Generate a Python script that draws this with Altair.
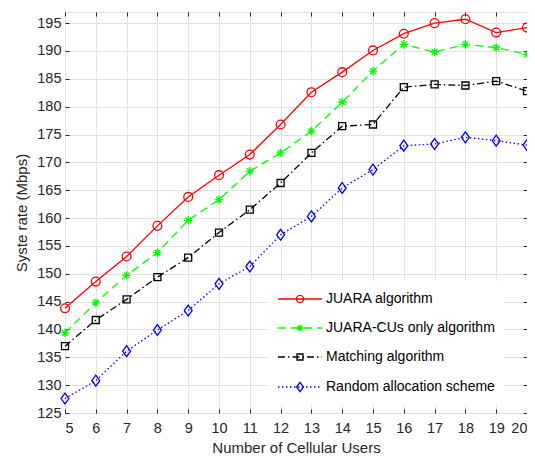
import altair as alt
import pandas as pd

users = list(range(5, 21))
juara = [143.8, 148.6, 153.1, 158.6, 163.8, 167.7, 171.4, 176.8, 182.6, 186.2, 190.1, 193.1, 195.0, 195.7, 193.3, 194.2]
cus_only = [139.4, 144.8, 149.7, 153.8, 159.6, 163.3, 168.4, 171.7, 175.6, 180.8, 186.4, 191.2, 189.8, 191.2, 190.6, 189.4]
matching = [137.0, 141.7, 145.4, 149.4, 152.9, 157.4, 161.5, 166.3, 171.7, 176.5, 176.8, 183.5, 184.0, 183.8, 184.6, 182.8]
random_alloc = [127.6, 130.8, 136.1, 139.9, 143.4, 148.2, 151.3, 157.0, 160.3, 165.4, 168.7, 173.0, 173.3, 174.5, 173.9, 173.1]

series_names = ["JUARA algorithm", "JUARA-CUs only algorithm", "Matching algorithm", "Random allocation scheme"]
series_values = [juara, cus_only, matching, random_alloc]
x_ticks = list(range(5, 21))
y_ticks = list(range(125, 200, 5))

STAR = "M-1,0L1,0M0,-1L0,1M-0.7,-0.7L0.7,0.7M-0.7,0.7L0.7,-0.7"
DIAMOND = "M0,-1L0.72,0L0,1L-0.72,0Z"
colors = ["#ff0000", "#00ff00", "#000000", "#0000ff"]
dashes = [None, [8, 5], [7, 3, 1.5, 3], [1.5, 2.5]]
shapes = ["circle", STAR, "square", DIAMOND]
sizes = [78, 70, 49, 120]
leg_sizes = [52, 50, 36, 90]

W, H = 462, 401
TXT = "#262626"
FONT = "Liberation Sans"

xdom = alt.Scale(domain=[5, 20], nice=False)
ydom = alt.Scale(domain=[125, 197], nice=False)

ax_bottom = alt.Axis(orient="bottom", values=x_ticks, format="d", offset=-4, tickSize=4, domain=False,
                     grid=True, gridColor="#e2e2e2", labelFontSize=14.5, labelColor=TXT, tickColor=TXT,
                     labelPadding=8, title="Number of Cellular Users", titleFontSize=15,
                     titleFontWeight="normal", titleColor=TXT, titlePadding=6, labelFont=FONT, titleFont=FONT)
ax_left = alt.Axis(orient="left", values=y_ticks, format="d", offset=-4, tickSize=4, domain=False,
                   grid=True, gridColor="#e2e2e2", labelFontSize=14.5, labelColor=TXT, tickColor=TXT,
                   labelPadding=4, title="Syste rate (Mbps)", titleFontSize=15,
                   titleFontWeight="normal", titleColor=TXT, titlePadding=7, labelFont=FONT, titleFont=FONT)
ax_top = alt.Axis(orient="top", values=x_ticks, offset=-4, tickSize=4, domain=False, grid=False,
                  labels=False, title=None, tickColor=TXT)
ax_right = alt.Axis(orient="right", values=y_ticks, offset=-4, tickSize=4, domain=False, grid=False,
                    labels=False, title=None, tickColor=TXT)

layers = []
for i, (name, vals) in enumerate(zip(series_names, series_values)):
    df = pd.DataFrame({"users": users, "rate": vals})
    line_kw = dict(color=colors[i], strokeWidth=1.3)
    if dashes[i]:
        line_kw["strokeDash"] = dashes[i]
    xa, ya = (ax_bottom, ax_left) if i == 0 else (None, None)
    line = alt.Chart(df).mark_line(**line_kw).encode(
        x=alt.X("users:Q", scale=xdom, axis=xa),
        y=alt.Y("rate:Q", scale=ydom, axis=ya),
    )
    xb, yb = (ax_top, ax_right) if i == 0 else (None, None)
    pts = alt.Chart(df).mark_point(shape=shapes[i], size=sizes[i], filled=False, color=colors[i],
                                   strokeWidth=1.3, opacity=1).encode(
        x=alt.X("users:Q", scale=xdom, axis=xb),
        y=alt.Y("rate:Q", scale=ydom, axis=yb),
    )
    layers += [line, pts]

# legend (white box, no border)
one = pd.DataFrame({"k": [0]})
layers.append(alt.Chart(one).mark_rect(fill="white", stroke=None).encode(
    x=alt.value(203), x2=alt.value(439), y=alt.value(269), y2=alt.value(393)))
leg_y = [287, 316, 345, 375]
for i, name in enumerate(series_names):
    ldf = pd.DataFrame({"name": [name]})
    rk = dict(color=colors[i], strokeWidth=1.3)
    if dashes[i]:
        rk["strokeDash"] = dashes[i]
    layers.append(alt.Chart(ldf).mark_rule(**rk).encode(
        x=alt.value(213), x2=alt.value(257), y=alt.value(leg_y[i])))
    layers.append(alt.Chart(ldf).mark_point(shape=shapes[i], size=leg_sizes[i], filled=False,
                                            color=colors[i], strokeWidth=1.3, opacity=1).encode(
        x=alt.value(235), y=alt.value(leg_y[i])))
    layers.append(alt.Chart(ldf).mark_text(align="left", baseline="middle", fontSize=14, font=FONT,
                                           color="#000000").encode(
        x=alt.value(261), y=alt.value(leg_y[i]), text="name:N"))

chart = alt.layer(*layers).resolve_axis(x="independent", y="independent").properties(
    width=W, height=H,
    autosize=alt.AutoSizeParams(type="none"),
    padding={"left": 57, "top": 4, "right": 0, "bottom": 46},
).configure_view(stroke=TXT, strokeWidth=1).configure(background="white")

chart.save("out.html", embed_options={"renderer": "svg", "actions": False})
